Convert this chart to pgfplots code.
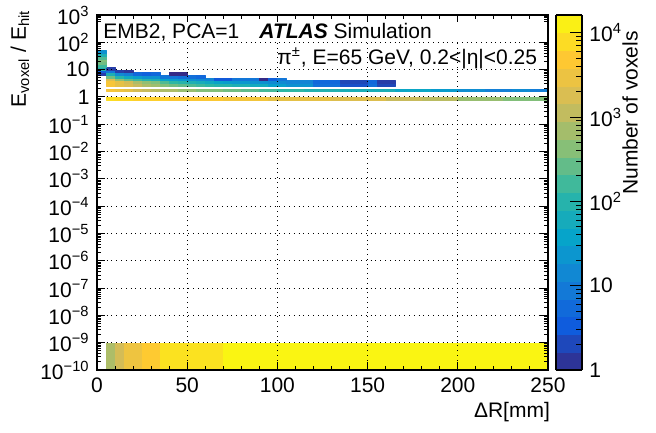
\documentclass[border=0pt]{standalone}
\usepackage{pgfplots}
\pgfplotsset{compat=1.18}
\usepackage{fontspec}
\setmainfont{Liberation Sans}
% ROOT kBird palette
\pgfplotsset{colormap={bird}{rgb=(0.2082,0.1664,0.5293) rgb=(0.0592,0.3599,0.8684) rgb=(0.0780,0.5041,0.8385) rgb=(0.0232,0.6419,0.7914) rgb=(0.1802,0.7178,0.6425) rgb=(0.5301,0.7492,0.4662) rgb=(0.8186,0.7328,0.3499) rgb=(0.9956,0.7862,0.1968) rgb=(0.9764,0.9832,0.0539)}}
\begin{document}
\fontsize{10.5}{12.6}\selectfont
\begin{tikzpicture}
\path[use as bounding box] (0,0) rectangle (328pt,216pt);
\begin{axis}[
  at={(48.5pt,31pt)}, anchor=south west,
  scale only axis, width=225.5pt, height=177.5pt,
  xmin=0, xmax=250, ymode=log, ymin=1e-10, ymax=1e3,
  xtick={0,50,100,150,200,250}, xticklabels={0,50,100,150,200,250},
  minor x tick num=4,
  ytickten={-10,-9,...,3},
  yticklabels={10\textsuperscript{−10},10\textsuperscript{−9},10\textsuperscript{−8},10\textsuperscript{−7},10\textsuperscript{−6},10\textsuperscript{−5},10\textsuperscript{−4},10\textsuperscript{−3},10\textsuperscript{−2},10\textsuperscript{−1},1,10,10\textsuperscript{2},10\textsuperscript{3}},
  grid=major, major grid style={black, dotted, line width=0.5pt},
  axis on top,
  tick align=inside,
  major tick length=4pt, minor tick length=2pt,
  tick style={black, line width=0.5pt},
  axis line style={line width=0.6pt},
  xlabel={ΔR[mm]},
  xlabel style={at={(axis description cs:1.005,-0.118)}, anchor=east, inner sep=0pt},
  ylabel={E\textsubscript{voxel} / E\textsubscript{hit}},
  ylabel style={at={(axis description cs:-0.171,1.015)}, anchor=east, inner sep=0pt},
  colormap name=bird,
  colorbar sampled,
  point meta min=0, point meta max=4.21,
  colorbar style={
    at={(parent axis.north east)}, anchor=north west, xshift=-4.5pt,
    width=13pt, samples=21, grid=none,
    ytick={0,1,2,3,4},
    yticklabels={1,10,10\textsuperscript{2},10\textsuperscript{3},10\textsuperscript{4}},
    minor ytick={0.301,0.477,0.602,0.699,0.778,0.845,0.903,0.954,1.301,1.477,1.602,1.699,1.778,1.845,1.903,1.954,2.301,2.477,2.602,2.699,2.778,2.845,2.903,2.954,3.301,3.477,3.602,3.699,3.778,3.845,3.903,3.954},
    ytick pos=right, yticklabel pos=right, tick align=inside,
    major tick length=6pt, minor tick length=3pt,
    tick style={draw=black, line width=0.5pt},
    axis line style={line width=0.6pt},
    ylabel={Number of voxels},
    ylabel style={at={(axis description cs:2.85,0.955)}, anchor=east, inner sep=0pt},
  },
]
\addplot[patch, patch type=rectangle, shader=flat, point meta=explicit, line width=0.1pt] coordinates {
% ratio ~ 1
(5,0.7943)[3.9] (10,0.7943)[3.9] (10,1)[3.9] (5,1)[3.9]
(10,0.7943)[3.85] (20,0.7943)[3.85] (20,1)[3.85] (10,1)[3.85]
(20,0.7943)[3.75] (40,0.7943)[3.75] (40,1)[3.75] (20,1)[3.75]
(40,0.7943)[3.65] (70,0.7943)[3.65] (70,1)[3.65] (40,1)[3.65]
(70,0.7943)[3.55] (95,0.7943)[3.55] (95,1)[3.55] (70,1)[3.55]
(95,0.7943)[3.4] (130,0.7943)[3.4] (130,1)[3.4] (95,1)[3.4]
(130,0.7943)[3.3] (160,0.7943)[3.3] (160,1)[3.3] (130,1)[3.3]
(160,0.7943)[3.1] (180,0.7943)[3.1] (180,1)[3.1] (160,1)[3.1]
(180,0.7943)[3.0] (200,0.7943)[3.0] (200,1)[3.0] (180,1)[3.0]
(200,0.7943)[2.75] (225,0.7943)[2.75] (225,1)[2.75] (200,1)[2.75]
(225,0.7943)[2.6] (250,0.7943)[2.6] (250,1)[2.6] (225,1)[2.6]
% ratio ~ 2
(5,1.5849)[3.6] (10,1.5849)[3.6] (10,1.9953)[3.6] (5,1.9953)[3.6]
(10,1.5849)[3.5] (15,1.5849)[3.5] (15,1.9953)[3.5] (10,1.9953)[3.5]
(15,1.5849)[3.4] (20,1.5849)[3.4] (20,1.9953)[3.4] (15,1.9953)[3.4]
(20,1.5849)[3.2] (25,1.5849)[3.2] (25,1.9953)[3.2] (20,1.9953)[3.2]
(25,1.5849)[3.1] (30,1.5849)[3.1] (30,1.9953)[3.1] (25,1.9953)[3.1]
(30,1.5849)[3.0] (35,1.5849)[3.0] (35,1.9953)[3.0] (30,1.9953)[3.0]
(35,1.5849)[2.9] (45,1.5849)[2.9] (45,1.9953)[2.9] (35,1.9953)[2.9]
(45,1.5849)[2.75] (55,1.5849)[2.75] (55,1.9953)[2.75] (45,1.9953)[2.75]
(55,1.5849)[2.6] (70,1.5849)[2.6] (70,1.9953)[2.6] (55,1.9953)[2.6]
(70,1.5849)[2.5] (80,1.5849)[2.5] (80,1.9953)[2.5] (70,1.9953)[2.5]
(80,1.5849)[2.4] (90,1.5849)[2.4] (90,1.9953)[2.4] (80,1.9953)[2.4]
(90,1.5849)[2.25] (100,1.5849)[2.25] (100,1.9953)[2.25] (90,1.9953)[2.25]
(100,1.5849)[2.1] (115,1.5849)[2.1] (115,1.9953)[2.1] (100,1.9953)[2.1]
(115,1.5849)[1.95] (135,1.5849)[1.95] (135,1.9953)[1.95] (115,1.9953)[1.95]
(135,1.5849)[1.85] (165,1.5849)[1.85] (165,1.9953)[1.85] (135,1.9953)[1.85]
(165,1.5849)[1.65] (185,1.5849)[1.65] (185,1.9953)[1.65] (165,1.9953)[1.65]
(185,1.5849)[1.45] (200,1.5849)[1.45] (200,1.9953)[1.45] (185,1.9953)[1.45]
(200,1.5849)[1.25] (215,1.5849)[1.25] (215,1.9953)[1.25] (200,1.9953)[1.25]
(215,1.5849)[1.05] (230,1.5849)[1.05] (230,1.9953)[1.05] (215,1.9953)[1.05]
(230,1.5849)[1.2] (240,1.5849)[1.2] (240,1.9953)[1.2] (230,1.9953)[1.2]
(240,1.5849)[1.0] (250,1.5849)[1.0] (250,1.9953)[1.0] (240,1.9953)[1.0]
% ratio ~ 3
(5,2.5119)[3.6] (10,2.5119)[3.6] (10,3.1623)[3.6] (5,3.1623)[3.6]
(10,2.5119)[3.4] (15,2.5119)[3.4] (15,3.1623)[3.4] (10,3.1623)[3.4]
(15,2.5119)[3.3] (20,2.5119)[3.3] (20,3.1623)[3.3] (15,3.1623)[3.3]
(20,2.5119)[3.1] (25,2.5119)[3.1] (25,3.1623)[3.1] (20,3.1623)[3.1]
(25,2.5119)[2.9] (30,2.5119)[2.9] (30,3.1623)[2.9] (25,3.1623)[2.9]
(30,2.5119)[2.8] (35,2.5119)[2.8] (35,3.1623)[2.8] (30,3.1623)[2.8]
(35,2.5119)[2.6] (40,2.5119)[2.6] (40,3.1623)[2.6] (35,3.1623)[2.6]
(40,2.5119)[2.5] (45,2.5119)[2.5] (45,3.1623)[2.5] (40,3.1623)[2.5]
(45,2.5119)[2.4] (50,2.5119)[2.4] (50,3.1623)[2.4] (45,3.1623)[2.4]
(50,2.5119)[2.3] (55,2.5119)[2.3] (55,3.1623)[2.3] (50,3.1623)[2.3]
(55,2.5119)[2.2] (60,2.5119)[2.2] (60,3.1623)[2.2] (55,3.1623)[2.2]
(60,2.5119)[2.1] (65,2.5119)[2.1] (65,3.1623)[2.1] (60,3.1623)[2.1]
(65,2.5119)[2.0] (75,2.5119)[2.0] (75,3.1623)[2.0] (65,3.1623)[2.0]
(75,2.5119)[1.9] (85,2.5119)[1.9] (85,3.1623)[1.9] (75,3.1623)[1.9]
(85,2.5119)[1.75] (95,2.5119)[1.75] (95,3.1623)[1.75] (85,3.1623)[1.75]
(95,2.5119)[1.5] (105,2.5119)[1.5] (105,3.1623)[1.5] (95,3.1623)[1.5]
(105,2.5119)[1.3] (120,2.5119)[1.3] (120,3.1623)[1.3] (105,3.1623)[1.3]
(120,2.5119)[0.8] (135,2.5119)[0.8] (135,3.1623)[0.8] (120,3.1623)[0.8]
(135,2.5119)[0.4] (150,2.5119)[0.4] (150,3.1623)[0.4] (135,3.1623)[0.4]
(150,2.5119)[0.8] (155,2.5119)[0.8] (155,3.1623)[0.8] (150,3.1623)[0.8]
(155,2.5119)[0.3] (165,2.5119)[0.3] (165,3.1623)[0.3] (155,3.1623)[0.3]
% ratio ~ 4
(5,3.1623)[3.6] (10,3.1623)[3.6] (10,3.9811)[3.6] (5,3.9811)[3.6]
(10,3.1623)[3.4] (15,3.1623)[3.4] (15,3.9811)[3.4] (10,3.9811)[3.4]
(15,3.1623)[3.2] (20,3.1623)[3.2] (20,3.9811)[3.2] (15,3.9811)[3.2]
(20,3.1623)[2.9] (25,3.1623)[2.9] (25,3.9811)[2.9] (20,3.9811)[2.9]
(25,3.1623)[2.7] (30,3.1623)[2.7] (30,3.9811)[2.7] (25,3.9811)[2.7]
(30,3.1623)[2.6] (35,3.1623)[2.6] (35,3.9811)[2.6] (30,3.9811)[2.6]
(35,3.1623)[2.3] (40,3.1623)[2.3] (40,3.9811)[2.3] (35,3.9811)[2.3]
(40,3.1623)[2.1] (45,3.1623)[2.1] (45,3.9811)[2.1] (40,3.9811)[2.1]
(45,3.1623)[2.0] (50,3.1623)[2.0] (50,3.9811)[2.0] (45,3.9811)[2.0]
(50,3.1623)[1.9] (55,3.1623)[1.9] (55,3.9811)[1.9] (50,3.9811)[1.9]
(55,3.1623)[1.8] (60,3.1623)[1.8] (60,3.9811)[1.8] (55,3.9811)[1.8]
(60,3.1623)[1.7] (65,3.1623)[1.7] (65,3.9811)[1.7] (60,3.9811)[1.7]
(65,3.1623)[1.6] (70,3.1623)[1.6] (70,3.9811)[1.6] (65,3.9811)[1.6]
(70,3.1623)[1.5] (75,3.1623)[1.5] (75,3.9811)[1.5] (70,3.9811)[1.5]
(75,3.1623)[1.4] (85,3.1623)[1.4] (85,3.9811)[1.4] (75,3.9811)[1.4]
(85,3.1623)[1.3] (95,3.1623)[1.3] (95,3.9811)[1.3] (85,3.9811)[1.3]
(95,3.1623)[1.2] (105,3.1623)[1.2] (105,3.9811)[1.2] (95,3.9811)[1.2]
(105,3.1623)[1.1] (120,3.1623)[1.1] (120,3.9811)[1.1] (105,3.9811)[1.1]
(120,3.1623)[0.7] (135,3.1623)[0.7] (135,3.9811)[0.7] (120,3.9811)[0.7]
(135,3.1623)[0.3] (150,3.1623)[0.3] (150,3.9811)[0.3] (135,3.9811)[0.3]
(150,3.1623)[0.7] (155,3.1623)[0.7] (155,3.9811)[0.7] (150,3.9811)[0.7]
(155,3.1623)[0.2] (165,3.1623)[0.2] (165,3.9811)[0.2] (155,3.9811)[0.2]
% ratio ~ 4 - 5
(5,3.9811)[3.3] (10,3.9811)[3.3] (10,5.0119)[3.3] (5,5.0119)[3.3]
(10,3.9811)[2.7] (15,3.9811)[2.7] (15,5.0119)[2.7] (10,5.0119)[2.7]
(15,3.9811)[2.4] (20,3.9811)[2.4] (20,5.0119)[2.4] (15,5.0119)[2.4]
(20,3.9811)[2.2] (25,3.9811)[2.2] (25,5.0119)[2.2] (20,5.0119)[2.2]
(25,3.9811)[2.0] (30,3.9811)[2.0] (30,5.0119)[2.0] (25,5.0119)[2.0]
(30,3.9811)[1.9] (35,3.9811)[1.9] (35,5.0119)[1.9] (30,5.0119)[1.9]
(35,3.9811)[1.6] (40,3.9811)[1.6] (40,5.0119)[1.6] (35,5.0119)[1.6]
(40,3.9811)[1.5] (45,3.9811)[1.5] (45,5.0119)[1.5] (40,5.0119)[1.5]
(45,3.9811)[1.4] (50,3.9811)[1.4] (50,5.0119)[1.4] (45,5.0119)[1.4]
(50,3.9811)[1.3] (55,3.9811)[1.3] (55,5.0119)[1.3] (50,5.0119)[1.3]
(55,3.9811)[1.2] (60,3.9811)[1.2] (60,5.0119)[1.2] (55,5.0119)[1.2]
(60,3.9811)[1.1] (65,3.9811)[1.1] (65,5.0119)[1.1] (60,5.0119)[1.1]
(65,3.9811)[0.5] (75,3.9811)[0.5] (75,5.0119)[0.5] (65,5.0119)[0.5]
(75,3.9811)[0.9] (90,3.9811)[0.9] (90,5.0119)[0.9] (75,5.0119)[0.9]
(90,3.9811)[0.0] (95,3.9811)[0.0] (95,5.0119)[0.0] (90,5.0119)[0.0]
(95,3.9811)[0.6] (100,3.9811)[0.6] (100,5.0119)[0.6] (95,5.0119)[0.6]
(100,3.9811)[0.9] (105,3.9811)[0.9] (105,5.0119)[0.9] (100,5.0119)[0.9]
% ratio ~ 5 - 6.3
(5,5.0119)[2.5] (10,5.0119)[2.5] (10,6.3096)[2.5] (5,6.3096)[2.5]
(10,5.0119)[2.0] (15,5.0119)[2.0] (15,6.3096)[2.0] (10,6.3096)[2.0]
(15,5.0119)[1.7] (20,5.0119)[1.7] (20,6.3096)[1.7] (15,6.3096)[1.7]
(20,5.0119)[1.5] (25,5.0119)[1.5] (25,6.3096)[1.5] (20,6.3096)[1.5]
(25,5.0119)[1.3] (35,5.0119)[1.3] (35,6.3096)[1.3] (25,6.3096)[1.3]
(35,5.0119)[0.9] (45,5.0119)[0.9] (45,6.3096)[0.9] (35,6.3096)[0.9]
(45,5.0119)[0.8] (55,5.0119)[0.8] (55,6.3096)[0.8] (45,6.3096)[0.8]
(55,5.0119)[0.7] (60,5.0119)[0.7] (60,6.3096)[0.7] (55,6.3096)[0.7]
% ratio ~ 6.3 - 7.9
(0,6.3096)[0.2] (5,6.3096)[0.2] (5,7.9433)[0.2] (0,7.9433)[0.2]
(5,6.3096)[1.9] (10,6.3096)[1.9] (10,7.9433)[1.9] (5,7.9433)[1.9]
(10,6.3096)[1.2] (15,6.3096)[1.2] (15,7.9433)[1.2] (10,7.9433)[1.2]
(15,6.3096)[1.0] (20,6.3096)[1.0] (20,7.9433)[1.0] (15,7.9433)[1.0]
(20,6.3096)[0.7] (25,6.3096)[0.7] (25,7.9433)[0.7] (20,7.9433)[0.7]
(25,6.3096)[0.6] (30,6.3096)[0.6] (30,7.9433)[0.6] (25,7.9433)[0.6]
(30,6.3096)[0.7] (35,6.3096)[0.7] (35,7.9433)[0.7] (30,7.9433)[0.7]
(40,6.3096)[0.0] (50,6.3096)[0.0] (50,7.9433)[0.0] (40,7.9433)[0.0]
% ratio ~ 7.9 - 10
(0,7.9433)[0.6] (5,7.9433)[0.6] (5,10)[0.6] (0,10)[0.6]
(5,7.9433)[0.9] (10,7.9433)[0.9] (10,10)[0.9] (5,10)[0.9]
(10,7.9433)[0.2] (15,7.9433)[0.2] (15,10)[0.2] (10,10)[0.2]
(15,7.9433)[0.1] (20,7.9433)[0.1] (20,10)[0.1] (15,10)[0.1]
% ratio above 10
(0,10)[1.9] (5,10)[1.9] (5,12.589)[1.9] (0,12.589)[1.9]
(5,10)[0.2] (10,10)[0.2] (10,12.589)[0.2] (5,12.589)[0.2]
(0,12.589)[2.2] (5,12.589)[2.2] (5,15.849)[2.2] (0,15.849)[2.2]
(0,15.849)[2.5] (5,15.849)[2.5] (5,19.953)[2.5] (0,19.953)[2.5]
(0,19.953)[2.6] (5,19.953)[2.6] (5,25.119)[2.6] (0,25.119)[2.6]
(0,25.119)[2.3] (5,25.119)[2.3] (5,31.623)[2.3] (0,31.623)[2.3]
(0,31.623)[1.9] (5,31.623)[1.9] (5,39.811)[1.9] (0,39.811)[1.9]
(0,39.811)[1.3] (5,39.811)[1.3] (5,50.119)[1.3] (0,50.119)[1.3]
% underflow band
(5,1e-10)[2.9] (10,1e-10)[2.9] (10,1e-9)[2.9] (5,1e-9)[2.9]
(10,1e-10)[3.2] (15,1e-10)[3.2] (15,1e-9)[3.2] (10,1e-9)[3.2]
(15,1e-10)[3.5] (25,1e-10)[3.5] (25,1e-9)[3.5] (15,1e-9)[3.5]
(25,1e-10)[3.7] (35,1e-10)[3.7] (35,1e-9)[3.7] (25,1e-9)[3.7]
(35,1e-10)[3.95] (70,1e-10)[3.95] (70,1e-9)[3.95] (35,1e-9)[3.95]
(70,1e-10)[4.15] (250,1e-10)[4.15] (250,1e-9)[4.15] (70,1e-9)[4.15]
};
\end{axis}
\fill[white] (49pt,194.9pt) rectangle (273.5pt,205pt);
\node[anchor=base west, inner sep=0pt] at (51.5pt,196.9pt) {EMB2, PCA=1};
\node[anchor=base west, inner sep=0pt] at (129.5pt,196.9pt) {\textbf{\textit{ATLAS}} Simulation};
\node[anchor=base west, inner sep=0pt] at (138.5pt,183.7pt) {π\textsuperscript{±}, E=65 GeV, 0.2<|η|<0.25};
\end{tikzpicture}
\end{document}
